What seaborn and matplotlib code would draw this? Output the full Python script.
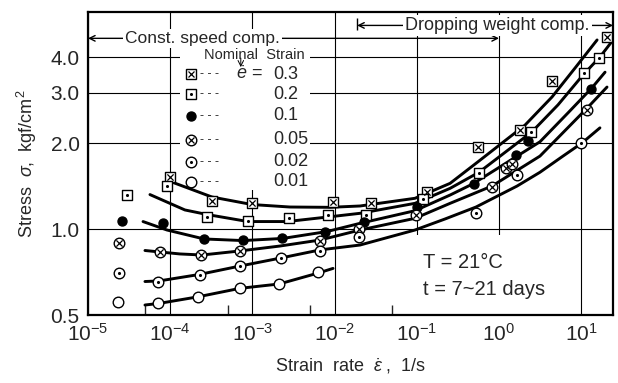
import matplotlib.pyplot as plt
import matplotlib.patches as mpatches
from matplotlib.ticker import NullLocator
import numpy as np
import pandas as pd
import seaborn as sns

# measured points: strain rate [1/s] and stress [kgf/cm2], one set per nominal strain
rate_03 = [1.0e-4, 3.2e-4, 9.8e-4, 9.6e-3, 2.8e-2, 0.134, 0.56, 1.8, 4.45, 20.8]
stress_03 = [1.52, 1.25, 1.23, 1.24, 1.23, 1.35, 1.94, 2.22, 3.30, 4.69]

rate_02 = [3.0e-5, 9.1e-5, 2.8e-4, 8.9e-4, 2.8e-3, 8.4e-3, 2.4e-2, 0.118, 0.57, 2.45, 10.9, 16.6]
stress_02 = [1.32, 1.41, 1.10, 1.07, 1.09, 1.12, 1.12, 1.27, 1.57, 2.19, 3.52, 3.98]

rate_01 = [2.6e-5, 8.2e-5, 2.6e-4, 7.7e-4, 2.3e-3, 7.7e-3, 2.3e-2, 0.10, 0.49, 1.6, 2.27, 13.1]
stress_01 = [1.07, 1.05, 0.92, 0.915, 0.93, 0.98, 1.06, 1.19, 1.44, 1.81, 2.04, 3.09]

rate_005 = [2.4e-5, 7.6e-5, 2.4e-4, 7.1e-4, 6.6e-3, 2.0e-2, 0.098, 0.82, 1.22, 1.43, 11.7]
stress_005 = [0.89, 0.83, 0.81, 0.84, 0.91, 1.00, 1.12, 1.40, 1.64, 1.69, 2.62]

rate_002 = [2.4e-5, 7.2e-5, 2.3e-4, 7.1e-4, 2.2e-3, 6.6e-3, 2.0e-2, 0.52, 1.64, 10.0]
stress_002 = [0.70, 0.654, 0.69, 0.74, 0.79, 0.84, 0.935, 1.14, 1.54, 2.0]

rate_001 = [2.3e-5, 7.2e-5, 2.2e-4, 7.1e-4, 2.1e-3, 6.3e-3]
stress_001 = [0.555, 0.55, 0.58, 0.62, 0.64, 0.71]

# hand drawn trend curves
curve_rate_03 = [1.05e-4, 3.23e-4, 9.9e-4, 2.86e-3, 8.8e-3, 2.04e-2, 9.5e-2, 0.254, 0.556, 2.07, 4.42, 8.41, 15.6]
curve_stress_03 = [1.46, 1.294, 1.218, 1.194, 1.191, 1.204, 1.281, 1.445, 1.72, 2.31, 2.90, 3.66, 4.59]

curve_rate_02 = [5.67e-5, 1.51e-4, 2.81e-4, 8.83e-4, 2.64e-3, 8.8e-3, 2.04e-2, 9.5e-2, 0.254, 0.571, 2.52, 5.22, 10.5, 16.9, 24.4]
curve_stress_02 = [1.32, 1.166, 1.124, 1.062, 1.062, 1.104, 1.135, 1.230, 1.388, 1.58, 2.19, 2.72, 3.46, 4.0, 4.59]

curve_rate_01 = [4.67e-5, 9.14e-5, 2.58e-4, 7.7e-4, 2.35e-3, 8.1e-3, 2.04e-2, 9.5e-2, 0.254, 0.483, 3.15, 6.91, 13.5, 19.5]
curve_stress_01 = [1.062, 0.992, 0.923, 0.911, 0.927, 0.980, 1.047, 1.159, 1.315, 1.44, 2.02, 2.55, 3.12, 3.54]

curve_rate_005 = [4.93e-5, 1.31e-4, 2.44e-4, 7.06e-4, 2.17e-3, 6.64e-3, 2.04e-2, 9.5e-2, 0.254, 0.822, 3.15, 11.8, 20.6]
curve_stress_005 = [0.841, 0.818, 0.811, 0.838, 0.872, 0.915, 0.992, 1.090, 1.230, 1.414, 1.80, 2.65, 3.14]

curve_rate_002 = [4.93e-5, 7.31e-5, 2.24e-4, 7.06e-4, 2.23e-3, 6.64e-3, 2.04e-2, 9.5e-2, 0.220, 0.525, 1.66, 3.15, 5.84, 10.2, 16.9]
curve_stress_002 = [0.655, 0.658, 0.693, 0.742, 0.792, 0.845, 0.879, 0.992, 1.084, 1.194, 1.414, 1.58, 1.79, 2.0, 2.26]

curve_rate_001 = [4.93e-5, 7.31e-5, 2.18e-4, 7.06e-4, 2.11e-3, 6.28e-3, 9.57e-3]
curve_stress_001 = [0.542, 0.549, 0.579, 0.620, 0.642, 0.701, 0.728]

strain_labels = ['0.3', '0.2', '0.1', '0.05', '0.02', '0.01']
x_ticks = [1e-5, 1e-4, 1e-3, 1e-2, 1e-1, 1e0, 1e1]
x_ticklabels = ['$10^{-5}$', '$10^{-4}$', '$10^{-3}$', '$10^{-2}$', '$10^{-1}$', '$10^{0}$', '$10^{1}$']
x_minor = [5e-5, 5e-4, 5e-3, 5e-2, 5e-1, 5e0]
y_ticks = [0.5, 1.0, 2.0, 3.0, 4.0]
y_ticklabels = ['0.5', '1.0', '2.0', '3.0', '4.0']

points = [(rate_03, stress_03), (rate_02, stress_02), (rate_01, stress_01),
          (rate_005, stress_005), (rate_002, stress_002), (rate_001, stress_001)]
curves = [(curve_rate_03, curve_stress_03), (curve_rate_02, curve_stress_02),
          (curve_rate_01, curve_stress_01), (curve_rate_005, curve_stress_005),
          (curve_rate_002, curve_stress_002), (curve_rate_001, curve_stress_001)]
# outer marker, face colour, inner symbol, marker area
styles = [('s', 'white', 'x', 52), ('s', 'white', 'dot', 52), ('o', 'black', None, 42),
          ('o', 'white', 'x', 58), ('o', 'white', 'dot', 58), ('o', 'white', None, 58)]

sns.set_style('ticks')
plt.rcParams['font.family'] = ['Liberation Sans', 'DejaVu Sans']
plt.rcParams['mathtext.fontset'] = 'custom'
plt.rcParams['mathtext.rm'] = 'Liberation Sans'
plt.rcParams['mathtext.it'] = 'Liberation Sans:italic'

fig, ax = plt.subplots(figsize=(6.18, 3.83), dpi=100)
fig.subplots_adjust(left=0.1424, right=0.992, bottom=0.1775, top=0.9687)
ax.set_xscale('log')
ax.set_yscale('log')

for rate, stress in curves:
    sns.lineplot(x=rate, y=stress, sort=False, estimator=None, color='black',
                 lw=2.1, ax=ax, zorder=3)

for (rate, stress), (mk, face, inner, area) in zip(points, styles):
    sns.scatterplot(x=rate, y=stress, marker=mk, s=area, color=face, edgecolor='black',
                    linewidth=1.0, ax=ax, zorder=4)
    if inner == 'x':
        sns.scatterplot(x=rate, y=stress, marker='x', s=20, color='black',
                        linewidth=0.9, ax=ax, zorder=5)
    elif inner == 'dot':
        sns.scatterplot(x=rate, y=stress, marker='o', s=5, color='black',
                        linewidth=0, ax=ax, zorder=5)

ax.set_xlim(1e-5, 24.4)
ax.set_ylim(0.5, 5.75)
ax.set_xticks(x_ticks)
ax.set_xticklabels(x_ticklabels, fontsize=15)
ax.set_xticks(x_minor, minor=True)
ax.set_xticklabels([], minor=True)
ax.set_yticks(y_ticks)
ax.set_yticklabels(y_ticklabels, fontsize=15)
ax.yaxis.set_minor_locator(NullLocator())
ax.tick_params(axis='both', which='major', length=0, pad=6)
ax.tick_params(axis='x', which='minor', direction='in', length=7, width=1, bottom=True)
ax.grid(True, which='major', color='black', lw=0.8)
ax.set_axisbelow(True)
for s in ax.spines.values():
    s.set_linewidth(1.6)
    s.set_color('black')

ax.set_xlabel('Strain  rate  $\\dot{\\varepsilon}$ ,  1/s', fontsize=13, labelpad=8)
ax.set_ylabel('Stress  $\\sigma$,  kgf/cm$^2$', fontsize=13, labelpad=8)

# white patches that hide the grid behind legend and conditions text
ax.add_patch(mpatches.Rectangle((0.175, 0.413), 0.248, 0.478, transform=ax.transAxes,
                                fc='white', ec='none', zorder=1))
ax.add_patch(mpatches.Rectangle((0.613, 0.003), 0.315, 0.261, transform=ax.transAxes,
                                fc='white', ec='none', zorder=1))

# test range arrows
ax.annotate('', xy=(1e-5, 4.65), xytext=(1.0, 4.65),
            arrowprops=dict(arrowstyle='<->', lw=1, color='black', shrinkA=0, shrinkB=0))
ax.text(2.8e-5, 4.65, 'Const. speed comp.', ha='left', va='center', fontsize=12.5,
        bbox=dict(fc='white', ec='none', pad=1.5))
ax.annotate('', xy=(24.4, 5.16), xytext=(0.0188, 5.16),
            arrowprops=dict(arrowstyle='<->', lw=1, color='black', shrinkA=0, shrinkB=0))
ax.vlines(0.0188, 4.98, 5.5, color='black', lw=1)
ax.text(0.072, 5.16, 'Dropping weight comp.', ha='left', va='center', fontsize=13,
        bbox=dict(fc='white', ec='none', pad=1.5))

# legend
ax.text(0.316, 0.858, 'Nominal  Strain', ha='center', va='center', fontsize=10.5,
        transform=ax.transAxes)
ax.annotate('', xy=(0.291, 0.818), xytext=(0.291, 0.848), xycoords='axes fraction',
            arrowprops=dict(arrowstyle='->', lw=0.7, color='black', shrinkA=0, shrinkB=0))
ax.text(0.333, 0.795, '$\\dot{e}$ =', ha='right', va='center', fontsize=13,
        transform=ax.transAxes)
row_y = [0.795, 0.729, 0.657, 0.578, 0.505, 0.439]
for label, fy, (mk, face, inner, area) in zip(strain_labels, row_y, styles):
    ax.plot([0.196], [fy], marker=mk, ms=np.sqrt(area), mfc=face, mec='black', mew=1.0,
            transform=ax.transAxes, zorder=4)
    if inner == 'x':
        ax.plot([0.196], [fy], marker='x', ms=4.2, color='black', mew=0.9,
                transform=ax.transAxes, zorder=5)
    elif inner == 'dot':
        ax.plot([0.196], [fy], marker='o', ms=2.2, color='black', mew=0,
                transform=ax.transAxes, zorder=5)
    ax.text(0.213, fy, '- - -', ha='left', va='center', fontsize=9, transform=ax.transAxes)
    ax.text(0.352, fy, label, ha='left', va='center', fontsize=13, transform=ax.transAxes)

ax.text(0.638, 0.172, 'T = 21°C', ha='left', va='center', fontsize=14.5, transform=ax.transAxes)
ax.text(0.638, 0.083, 't = 7~21 days', ha='left', va='center', fontsize=14.5,
        transform=ax.transAxes)

fig.savefig('out.png', dpi=100)
